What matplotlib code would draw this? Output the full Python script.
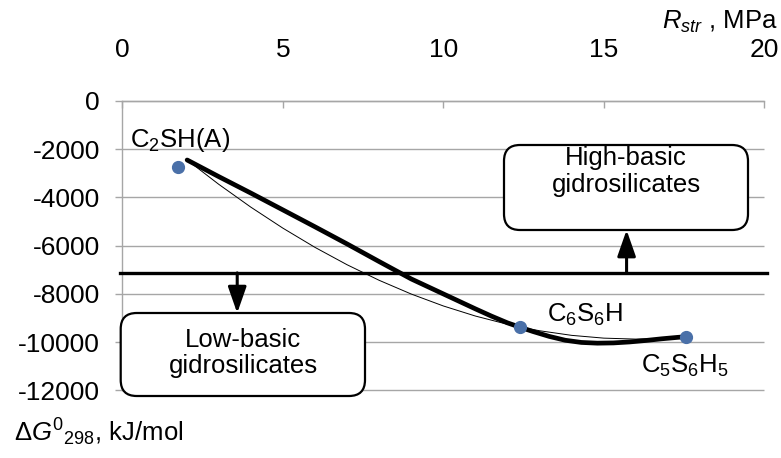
import matplotlib.pyplot as plt
from matplotlib.patches import FancyBboxPatch

plt.rcParams['font.family'] = 'Liberation Sans'
plt.rcParams['mathtext.fontset'] = 'custom'
plt.rcParams['mathtext.rm'] = 'Liberation Sans'
plt.rcParams['mathtext.it'] = 'Liberation Sans:italic'
plt.rcParams['mathtext.default'] = 'regular'
plt.rcParams['axes.unicode_minus'] = False

# compounds: strength R_str (MPa) vs Gibbs energy dG (kJ/mol)
point_names = [r'C$_2$SH(A)', r'C$_6$S$_6$H', r'C$_5$S$_6$H$_5$']
point_r = [1.72, 12.39, 17.55]
point_g = [-2745, -9380, -9775]

# thick smoothed line
thick_r = [2.02, 3.0, 4.0, 5.0, 6.0, 7.0, 8.0, 9.0, 10.0, 10.5, 11.0, 11.5, 12.0,
           12.39, 12.8, 13.3, 13.8, 14.3, 14.8, 15.3, 15.8, 16.3, 16.8, 17.3, 17.55]
thick_g = [-2455, -3140, -3822, -4520, -5220, -5930, -6660, -7380, -8000, -8310,
           -8620, -8920, -9200, -9380, -9560, -9760, -9920, -10010, -10040, -10030,
           -9990, -9930, -9860, -9800, -9775]

# thin trend line
thin_r = [2.02, 3, 4, 5, 6, 7, 8, 9, 10, 11, 12, 12.39, 13, 14, 15, 16, 17, 17.53]
thin_g = [-2455, -3457, -4404, -5275, -6071, -6791, -7436, -8005, -8499, -8917,
          -9259, -9371, -9526, -9717, -9832, -9872, -9836, -9785]

# boundary between low- and high-basic gidrosilicates
boundary_r = [-0.07, 20.1]
boundary_g = [-7130, -7130]

x_ticks = [0, 5, 10, 15, 20]
y_ticks = [0, -2000, -4000, -6000, -8000, -10000, -12000]

grid_col = '#a6a6a6'
dot_col = '#4a70a8'

fig = plt.figure(figsize=(7.81, 4.58), dpi=100)
ax = fig.add_axes([0.1566, 0.1474, 0.8220, 0.6327])

ax.set_xlim(0, 20)
ax.set_ylim(-12000, 0)
ax.set_xticks(x_ticks)
ax.set_yticks(y_ticks)
ax.xaxis.tick_top()
ax.tick_params(axis='x', direction='in', length=5, width=1, color=grid_col,
               labelsize=19, pad=28)
ax.tick_params(axis='y', direction='out', length=5, width=1, color=grid_col,
               labelsize=19, pad=11)
for s in ['right', 'bottom']:
    ax.spines[s].set_visible(False)
for s in ['left', 'top']:
    ax.spines[s].set_color(grid_col)
    ax.spines[s].set_linewidth(1)
# horizontal gridlines, the bottom one included
ax.hlines(y_ticks, 0, 20, color=grid_col, linewidth=1, zorder=1, clip_on=False)

ax.plot(thin_r, thin_g, color='black', linewidth=0.7, zorder=3)
ax.plot(thick_r, thick_g, color='black', linewidth=3.4, zorder=4,
        solid_capstyle='round', solid_joinstyle='round')
ax.plot(boundary_r, boundary_g, color='black', linewidth=2.4, zorder=4,
        clip_on=False)
ax.plot(point_r, point_g, 'o', color=dot_col, markersize=8.5, zorder=5)

# labels of the points
ax.text(0.24, -1620, point_names[0], fontsize=18.5, ha='left', va='center')
ax.text(13.23, -8880, point_names[1], fontsize=18.5, ha='left', va='center')
ax.text(16.15, -10985, point_names[2], fontsize=18.5, ha='left', va='center')

# boxes (figure inches so the corners stay round)
for x0, y0, w, h in [(5.04, 2.28, 2.44, 0.85), (1.207, 0.62, 2.443, 0.83)]:
    box = FancyBboxPatch((x0, y0), w, h, boxstyle='round,pad=0,rounding_size=0.16',
                         transform=fig.dpi_scale_trans, facecolor='white',
                         edgecolor='black', linewidth=1.6, zorder=6)
    fig.add_artist(box)

fig.text(6.26 / 7.81, 1 - 158 / 458, 'High-basic', fontsize=18.5, ha='center',
         va='center', zorder=7)
fig.text(6.26 / 7.81, 1 - 185 / 458, 'gidrosilicates', fontsize=18.5, ha='center',
         va='center', zorder=7)
fig.text(2.43 / 7.81, 1 - 340 / 458, 'Low-basic', fontsize=18.5, ha='center',
         va='center', zorder=7)
fig.text(2.43 / 7.81, 1 - 366 / 458, 'gidrosilicates', fontsize=18.5, ha='center',
         va='center', zorder=7)

arrow = dict(arrowstyle='-|>,head_length=0.8,head_width=0.28', color='black',
             linewidth=2.2, mutation_scale=20, shrinkA=0, shrinkB=0)
ax.annotate('', xy=(15.71, -5354), xytext=(15.71, -7130), arrowprops=arrow,
            annotation_clip=False, zorder=5)
ax.annotate('', xy=(3.58, -8795), xytext=(3.58, -7130), arrowprops=arrow,
            annotation_clip=False, zorder=5)

fig.text(0.996, 1 - 22 / 458, r'$\mathit{R}_{\mathit{str}}$ , MPa', fontsize=18.5,
         ha='right', va='center')
fig.text(0.018, 1 - 432 / 458, r'Δ$\mathit{G}^{0}{}_{298}$, kJ/mol', fontsize=18.5,
         ha='left', va='center')

fig.savefig('out.png', dpi=100)
